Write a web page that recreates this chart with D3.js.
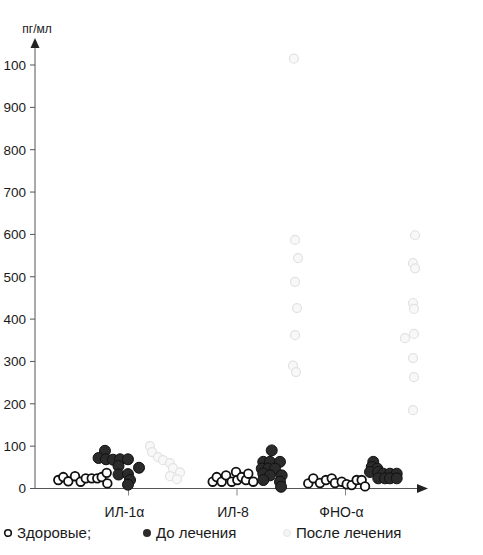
<!DOCTYPE html>
<html>
<head>
<meta charset="utf-8">
<script src="https://cdn.jsdelivr.net/npm/d3@7"></script>
<style>
  body { margin: 0; background: #fff; }
  svg text { font-family: "Liberation Sans", Arial, sans-serif; fill: #1a1a1a; }
</style>
</head>
<body>
<div id="chart"></div>
<script>
// categories and y ticks (top label really is "100" in the original)
var categories = ["ИЛ-1α", "ИЛ-8", "ФНО-α"]
var yTicks = [0, 100, 200, 300, 400, 500, 600, 700, 800, 900, 1000]
var yTickLabels = ["0", "100", "200", "300", "400", "500", "600", "700", "800", "900", "100"]
var unit = "пг/мл"
var legendLabels = ["Здоровые;", "До лечения", "После лечения"]

// each point: [position along x in category units, value pg/ml]
var healthy = [
  [0.353, 20], [0.399, 27], [0.445, 17], [0.507, 29], [0.559, 16], [0.606, 24],
  [0.661, 24], [0.712, 24], [0.753, 27], [0.799, 37], [0.805, 12],
  [1.776, 16], [1.813, 27], [1.859, 16], [1.899, 31], [1.951, 16], [1.991, 39],
  [2.003, 20], [2.043, 27], [2.083, 20], [2.104, 35], [2.150, 16],
  [2.657, 12], [2.703, 24], [2.765, 13], [2.820, 20], [2.873, 24], [2.903, 13],
  [2.965, 16], [3.011, 10], [3.057, 8], [3.103, 20], [3.149, 20], [3.180, 5]
]
var beforeTreat = [
  [0.783, 89], [0.724, 72], [0.793, 69], [0.857, 68], [0.922, 69], [0.995, 69],
  [0.908, 53], [1.097, 49], [0.908, 33], [0.995, 34], [1.014, 20], [0.995, 9],
  [2.320, 90], [2.242, 63], [2.304, 63], [2.396, 63], [2.228, 47], [2.288, 47],
  [2.350, 47], [2.242, 35], [2.304, 31], [2.412, 31], [2.242, 20], [2.396, 16], [2.406, 4],
  [3.256, 63], [3.242, 51], [3.293, 47], [3.226, 39], [3.302, 39], [3.348, 35],
  [3.410, 35], [3.472, 35], [3.302, 24], [3.364, 24], [3.410, 24], [3.472, 24]
]
var afterTreat = [
  [1.198, 100], [1.217, 86], [1.272, 74], [1.318, 67], [1.382, 60], [1.410, 48],
  [1.475, 38], [1.382, 29], [1.447, 22],
  [2.525, 1015], [2.535, 587], [2.562, 544], [2.535, 488], [2.553, 426],
  [2.535, 362], [2.516, 290], [2.544, 275],
  [3.641, 598], [3.622, 532], [3.641, 520], [3.622, 438], [3.631, 424],
  [3.548, 355], [3.631, 365], [3.622, 308], [3.631, 263], [3.622, 185]
]

var width = 483, height = 555

var svg = d3.select("#chart").append("svg")
    .attr("width", width)
    .attr("height", height)

var x = d3.scaleLinear().domain([0, 4]).range([20, 454])
var y = d3.scaleLinear().domain([0, 1000]).range([488.5, 65])

var axisColor = "#555"
var x0 = 35, yBase = y(0)

// y axis with arrow
svg.append("line")
    .attr("x1", x0).attr("x2", x0)
    .attr("y1", yBase).attr("y2", 46)
    .attr("stroke", axisColor).attr("stroke-width", 1)
svg.append("path")
    .attr("d", "M" + x0 + ",38 L" + (x0 - 4.5) + ",48 L" + (x0 + 4.5) + ",48 Z")
    .attr("fill", "#222")

svg.selectAll(".ytick").data(yTicks).enter().append("line")
    .attr("x1", x0 - 5).attr("x2", x0)
    .attr("y1", function(d) { return y(d) }).attr("y2", function(d) { return y(d) })
    .attr("stroke", axisColor)

svg.selectAll(".ylab").data(yTicks).enter().append("text")
    .attr("x", 26)
    .attr("y", function(d) { return y(d) })
    .attr("dy", "0.36em")
    .attr("text-anchor", "end")
    .attr("font-size", "13.5px")
    .text(function(d, i) { return yTickLabels[i] })

svg.append("text")
    .attr("x", 37).attr("y", 33)
    .attr("text-anchor", "middle")
    .attr("font-size", "12px")
    .text(unit)

// x axis with arrow
svg.append("line")
    .attr("x1", 31).attr("x2", 420)
    .attr("y1", yBase).attr("y2", yBase)
    .attr("stroke", axisColor)
svg.append("path")
    .attr("d", "M428," + yBase + " L417," + (yBase - 4.5) + " L417," + (yBase + 4.5) + " Z")
    .attr("fill", "#222")

svg.selectAll(".xtick").data(categories).enter().append("line")
    .attr("x1", function(d, i) { return x(i + 1) }).attr("x2", function(d, i) { return x(i + 1) })
    .attr("y1", yBase).attr("y2", yBase + 7)
    .attr("stroke", "#888")

svg.selectAll(".xlab").data(categories).enter().append("text")
    .attr("x", function(d, i) { return x(i + 1) - 4 })
    .attr("y", 517)
    .attr("text-anchor", "middle")
    .attr("font-size", "14px")
    .text(function(d) { return d })

// points
svg.selectAll(".after").data(afterTreat).enter().append("circle")
    .attr("cx", function(d) { return x(d[0]) })
    .attr("cy", function(d) { return y(d[1]) })
    .attr("r", 4.5)
    .attr("fill", "#f8f8f8")
    .attr("stroke", "#e2e2e2")
    .attr("stroke-width", 1.2)

svg.selectAll(".healthy").data(healthy).enter().append("circle")
    .attr("cx", function(d) { return x(d[0]) })
    .attr("cy", function(d) { return y(d[1]) })
    .attr("r", 4.3)
    .attr("fill", "#fff")
    .attr("stroke", "#111")
    .attr("stroke-width", 1.8)

svg.selectAll(".before").data(beforeTreat).enter().append("circle")
    .attr("cx", function(d) { return x(d[0]) })
    .attr("cy", function(d) { return y(d[1]) })
    .attr("r", 5.5)
    .attr("fill", "#2b2b2b")
    .attr("stroke", "#111")
    .attr("stroke-width", 1)

// legend
var legend = svg.append("g").attr("transform", "translate(0,533)")
var legendX = [8, 147, 287]
legend.append("circle").attr("cx", legendX[0]).attr("cy", 0).attr("r", 3.3)
    .attr("fill", "#fff").attr("stroke", "#111").attr("stroke-width", 1.6)
legend.append("circle").attr("cx", legendX[1]).attr("cy", 0).attr("r", 4)
    .attr("fill", "#2b2b2b")
legend.append("circle").attr("cx", legendX[2]).attr("cy", 0).attr("r", 3.5)
    .attr("fill", "#f4f4f4").attr("stroke", "#e6e6e6")
legend.selectAll("text").data(legendLabels).enter().append("text")
    .attr("x", function(d, i) { return legendX[i] + 9 })
    .attr("y", 0)
    .attr("dy", "0.36em")
    .attr("font-size", "15px")
    .text(function(d) { return d })
</script>
</body>
</html>
